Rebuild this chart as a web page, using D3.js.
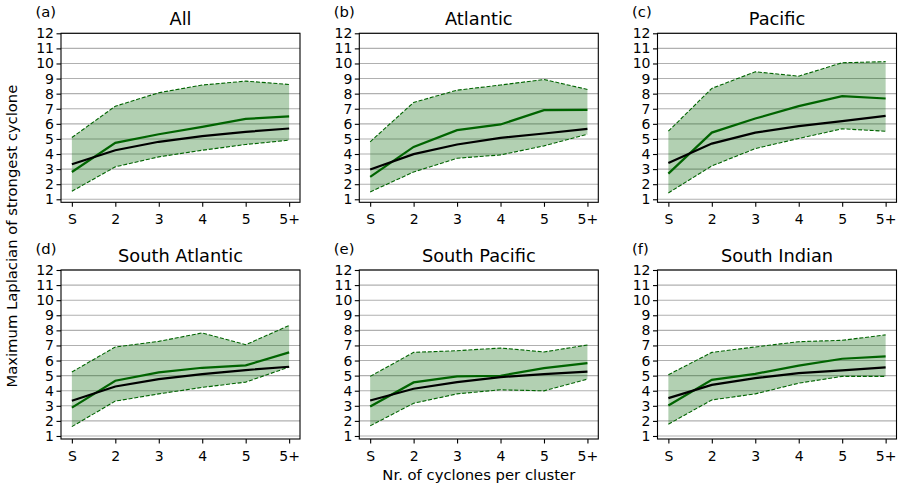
<!DOCTYPE html>
<html>
<head>
<meta charset="utf-8">
<script src="https://cdn.jsdelivr.net/npm/d3@7"></script>
<style>
    body { margin: 0; background: #fff; }
    svg { display: block; font-family: "DejaVu Sans", sans-serif; }
</style>
</head>
<body>
<script>
// categories on the x axis, ticks on the y axis
var categories = ["S", "2", "3", "4", "5", "5+"];
var yTicks = [1, 2, 3, 4, 5, 6, 7, 8, 9, 10, 11, 12];
var panelTitles = ["All", "Atlantic", "Pacific", "South Atlantic", "South Pacific", "South Indian"];
var panelTags = ["(a)", "(b)", "(c)", "(d)", "(e)", "(f)"];

// one row per panel, one value per category
var upperBand = [
    [5.09, 7.17, 8.06, 8.57, 8.83, 8.61],
    [4.81, 7.42, 8.23, 8.57, 8.94, 8.28],
    [5.51, 8.35, 9.45, 9.16, 10.05, 10.12],
    [5.24, 6.90, 7.27, 7.83, 7.05, 8.32],
    [4.95, 6.54, 6.65, 6.83, 6.57, 7.03],
    [5.06, 6.54, 6.90, 7.25, 7.34, 7.70]
];
var lowerBand = [
    [1.53, 3.15, 3.81, 4.25, 4.63, 4.92],
    [1.49, 2.81, 3.72, 3.94, 4.54, 5.31],
    [1.42, 3.21, 4.36, 5.03, 5.67, 5.51],
    [1.62, 3.31, 3.79, 4.22, 4.57, 5.57],
    [1.67, 3.17, 3.79, 4.06, 3.99, 4.77],
    [1.78, 3.39, 3.79, 4.50, 4.95, 4.95]
];
var greenLine = [
    [2.81, 4.74, 5.31, 5.80, 6.33, 6.49],
    [2.48, 4.47, 5.58, 5.96, 6.91, 6.93],
    [2.70, 5.42, 6.35, 7.17, 7.84, 7.68],
    [2.88, 4.66, 5.21, 5.52, 5.68, 6.54],
    [2.95, 4.55, 4.95, 4.99, 5.50, 5.83],
    [3.02, 4.72, 5.12, 5.66, 6.12, 6.28]
];
var blackLine = [
    [3.32, 4.25, 4.81, 5.18, 5.47, 5.69],
    [2.97, 3.99, 4.63, 5.07, 5.36, 5.67],
    [3.41, 4.69, 5.42, 5.85, 6.18, 6.53],
    [3.33, 4.28, 4.77, 5.10, 5.37, 5.59],
    [3.35, 4.13, 4.57, 4.90, 5.10, 5.26],
    [3.51, 4.39, 4.84, 5.17, 5.35, 5.55]
];

var width = 898, height = 490;
var colLeft = [61, 359.3, 657.5];
var rowTop = [33.3, 270];
var plotW = 239, plotH = 169;
var green = "#006400";
var tickFont = "14px", labelFont = "14.8px";

var svg = d3.select("body").append("svg")
    .attr("width", width)
    .attr("height", height);

var x = d3.scalePoint().domain(categories).range([0, plotW]).padding(0.25);
var y = d3.scaleLinear().domain([0.8, 12]).range([plotH, 0]);

function drawPanel(i) {
    var g = svg.append("g")
        .attr("transform", "translate(" + colLeft[i % 3] + "," + rowTop[Math.floor(i / 3)] + ")");

    // grid
    g.append("g").selectAll("line")
        .data(yTicks)
        .enter().append("line")
        .attr("x1", 0).attr("x2", plotW)
        .attr("y1", d => y(d)).attr("y2", d => y(d))
        .attr("stroke", "#b0b0b0")
        .attr("stroke-width", 1.1);

    var rows = categories.map((c, k) => ({
        cat: c, lo: lowerBand[i][k], hi: upperBand[i][k],
        gr: greenLine[i][k], bl: blackLine[i][k]
    }));

    g.append("path")
        .datum(rows)
        .attr("d", d3.area().x(d => x(d.cat)).y0(d => y(d.lo)).y1(d => y(d.hi)))
        .attr("fill", green)
        .attr("fill-opacity", 0.3);

    ["hi", "lo"].forEach(key => {
        g.append("path")
            .datum(rows)
            .attr("d", d3.line().x(d => x(d.cat)).y(d => y(d[key])))
            .attr("fill", "none")
            .attr("stroke", green)
            .attr("stroke-width", 1.1)
            .attr("stroke-dasharray", "4,1.8");
    });

    g.append("path")
        .datum(rows)
        .attr("d", d3.line().x(d => x(d.cat)).y(d => y(d.gr)))
        .attr("fill", "none")
        .attr("stroke", green)
        .attr("stroke-width", 2.2);

    g.append("path")
        .datum(rows)
        .attr("d", d3.line().x(d => x(d.cat)).y(d => y(d.bl)))
        .attr("fill", "none")
        .attr("stroke", "#000")
        .attr("stroke-width", 2.2);

    // axes
    var yAxis = g.append("g")
        .call(d3.axisLeft(y).tickValues(yTicks).tickSize(4.5).tickPadding(2.5));
    var xAxis = g.append("g")
        .attr("transform", "translate(0," + plotH + ")")
        .call(d3.axisBottom(x).tickSize(4.5).tickPadding(7.5));
    [yAxis, xAxis].forEach(a => {
        a.select(".domain").remove();
        a.selectAll("text")
            .style("font-family", "DejaVu Sans")
            .style("font-size", tickFont)
            .attr("fill", "#000");
        a.selectAll("line").attr("stroke", "#000").attr("stroke-width", 1.1);
    });

    g.append("rect")
        .attr("width", plotW).attr("height", plotH)
        .attr("fill", "none")
        .attr("stroke", "#000")
        .attr("stroke-width", 1.1);

    g.append("text")
        .attr("x", plotW / 2).attr("y", -8.5)
        .attr("text-anchor", "middle")
        .style("font-size", "17.8px")
        .text(panelTitles[i]);

    g.append("text")
        .attr("x", -25.5).attr("y", -16.5)
        .style("font-size", labelFont)
        .text(panelTags[i]);
}

for (var i = 0; i < 6; i++) drawPanel(i);

svg.append("text")
    .attr("x", (colLeft[1] + colLeft[1] + plotW) / 2)
    .attr("y", 480)
    .attr("text-anchor", "middle")
    .style("font-size", labelFont)
    .text("Nr. of cyclones per cluster");

svg.append("text")
    .attr("transform", "translate(17," + (rowTop[0] + rowTop[1] + plotH) / 2 + ") rotate(-90)")
    .attr("text-anchor", "middle")
    .style("font-size", labelFont)
    .text("Maximum Laplacian of strongest cyclone");
</script>
</body>
</html>
